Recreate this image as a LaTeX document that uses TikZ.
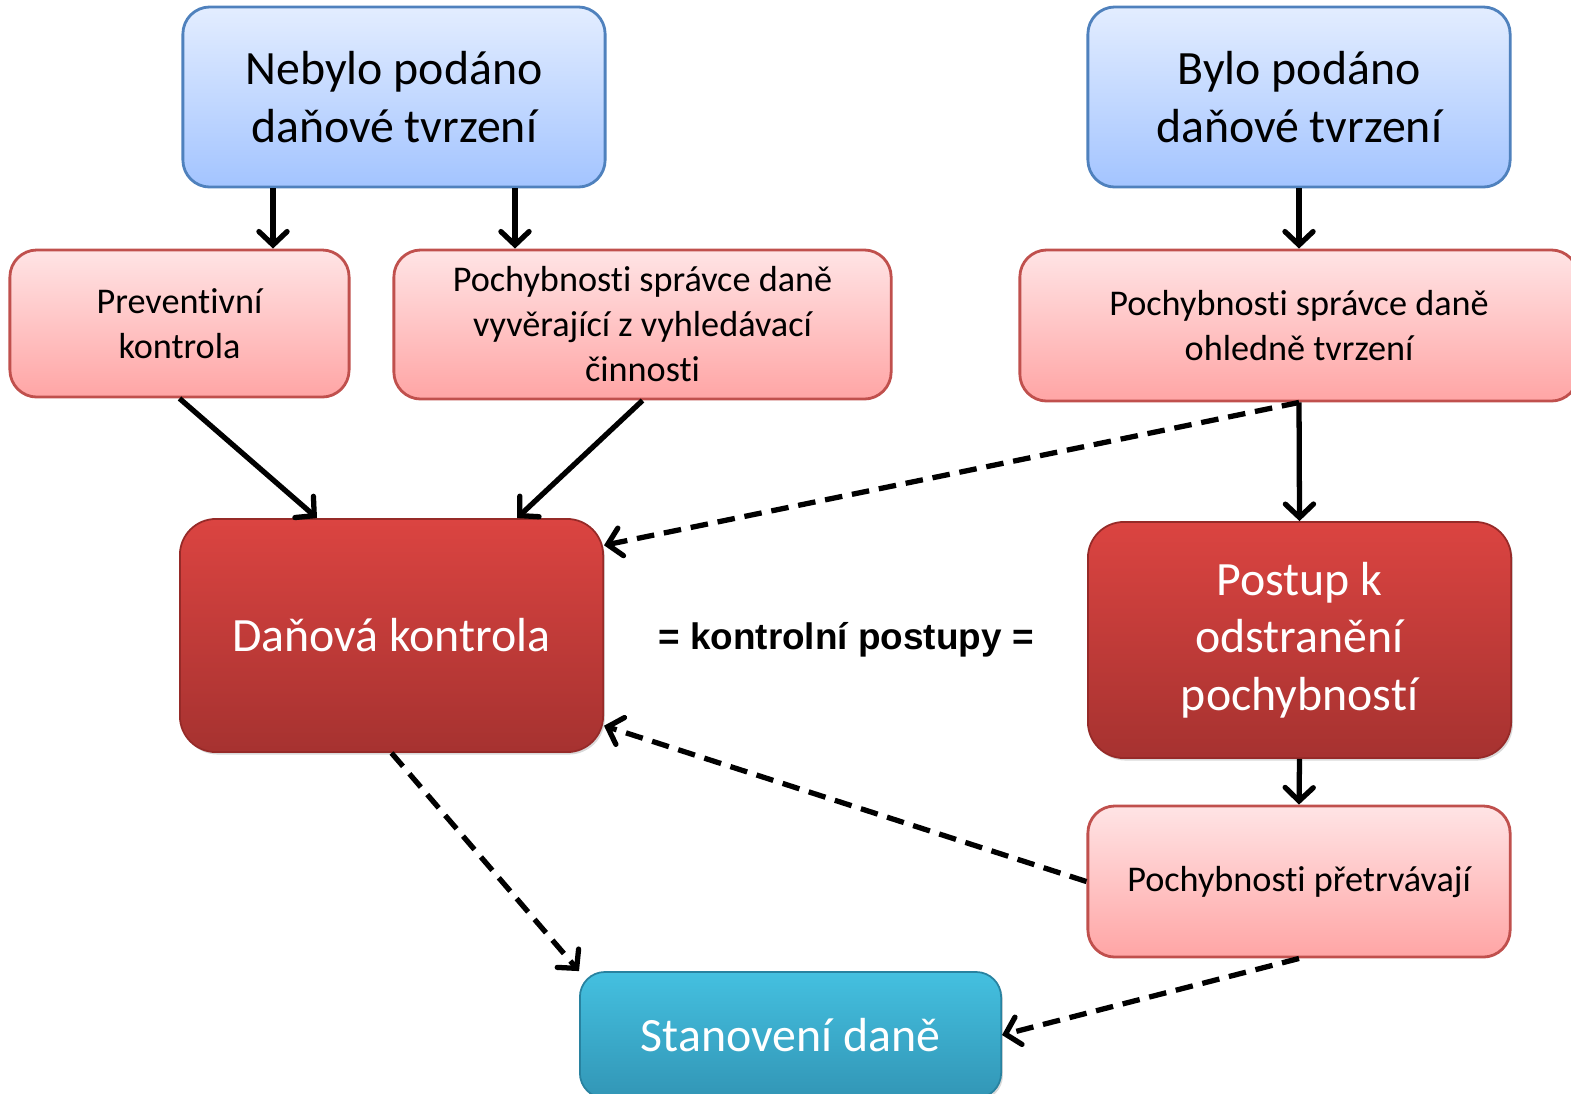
\documentclass[tikz,border=0pt]{standalone}
\usepackage{fontspec}
\setmainfont{Carlito}[Ligatures=NoCommon]
\newfontfamily\arialfont{Liberation Sans}
\usetikzlibrary{arrows.meta,shadows}
\definecolor{bluetop}{RGB}{227,237,255}
\definecolor{bluebot}{RGB}{163,196,255}
\definecolor{blueline}{RGB}{79,129,189}
\definecolor{pinktop}{RGB}{255,228,229}
\definecolor{pinkbot}{RGB}{255,165,165}
\definecolor{pinkline}{RGB}{192,80,77}
\definecolor{redtop}{RGB}{219,68,65}
\definecolor{redbot}{RGB}{166,50,48}
\definecolor{redline}{RGB}{150,42,40}
\definecolor{cyantop}{RGB}{68,192,224}
\definecolor{cyanbot}{RGB}{50,150,182}
\definecolor{cyanline}{RGB}{40,130,160}
\begin{document}
\begin{tikzpicture}[x=0.01cm,y=-0.01cm,
  bigtext/.style={font=\fontsize{13.6}{16.4}\selectfont, align=center},
  smalltext/.style={font=\fontsize{10.3}{12.8}\selectfont, align=center},
  bluebox/.style={bigtext, draw=blueline, line width=0.8pt, rounded corners=0.27cm,
    top color=bluetop, bottom color=bluebot, text=black, inner sep=0pt},
  pinkbox/.style={smalltext, draw=pinkline, line width=0.8pt, rounded corners=0.27cm,
    top color=pinktop, bottom color=pinkbot, text=black, inner sep=0pt},
  redbox/.style={bigtext, draw=redline, line width=0.5pt, rounded corners=0.36cm,
    top color=redtop, bottom color=redbot, text=white, inner sep=0pt,
    drop shadow={opacity=0.3, shadow xshift=0.5pt, shadow yshift=-0.7pt}},
  cyanbox/.style={bigtext, draw=cyanline, line width=0.5pt, rounded corners=0.25cm,
    top color=cyantop, bottom color=cyanbot, text=white, inner sep=0pt,
    drop shadow={opacity=0.3, shadow xshift=0.5pt, shadow yshift=-0.7pt}},
  arr/.style={line width=1.5pt, -{Straight Barb[length=3.8pt,width=8pt,line cap=round]}},
  darr/.style={arr, dash pattern=on 5pt off 2.8pt}
]
\useasboundingbox (0,0) rectangle (1571,1093);

% boxes
\node[bluebox, minimum width=4.22cm, minimum height=1.80cm] (nb) at (394,97) {Nebylo podáno\\daňové tvrzení};
\node[bluebox, minimum width=4.22cm, minimum height=1.80cm] (bp) at (1299,97) {Bylo podáno\\daňové tvrzení};

\node[pinkbox, minimum width=3.39cm, minimum height=1.47cm] (pk) at (179.5,323.5) {Preventivní\\kontrola};
\node[pinkbox, minimum width=4.97cm, minimum height=1.49cm] (pv) at (642.5,324.5) {Pochybnosti správce daně\\vyvěrající z vyhledávací\\činnosti};
\node[pinkbox, minimum width=5.58cm, minimum height=1.51cm] (po) at (1299,325.5) {Pochybnosti správce daně\\ohledně tvrzení};

\node[redbox, minimum width=4.23cm, minimum height=2.33cm] (dk) at (391.5,635.5) {Daňová kontrola};
\node[redbox, minimum width=4.23cm, minimum height=2.36cm] (ps) at (1299.5,640) {Postup k\\odstranění\\pochybností};

\node[pinkbox, minimum width=4.22cm, minimum height=1.51cm] (pr) at (1299,881.5) {Pochybnosti přetrvávají};

\node[cyanbox, minimum width=4.21cm, minimum height=1.26cm] (st) at (790.5,1035) {Stanovení daně};

\node[font=\arialfont\bfseries\fontsize{10.5}{12}\selectfont] (kp) at (846,640) {= kontrolní postupy =};

% helper coordinates for connector x positions
\coordinate (a1) at (273,0);
\coordinate (a2) at (515,0);
\coordinate (a3) at (317,0);
\coordinate (a4) at (517,0);

% solid connectors
\draw[arr] (nb.south -| a1) -- (pk.north -| a1);
\draw[arr] (nb.south -| a2) -- (pv.north -| a2);
\draw[arr] (bp.south) -- (po.north);
\draw[arr] (pk.south) -- (dk.north -| a3);
\draw[arr] (pv.south) -- (dk.north -| a4);
\draw[arr] (po.south) -- (ps.north);
\draw[arr] (ps.south) -- (pr.north);

% dashed connectors
\draw[darr] (po.south) -- (dk.23);
\draw[darr] (pr.west) -- (dk.-23);
\draw[darr] (dk.south) -- (st.north west);
\draw[darr] (pr.south) -- (st.east);
\end{tikzpicture}
\end{document}
